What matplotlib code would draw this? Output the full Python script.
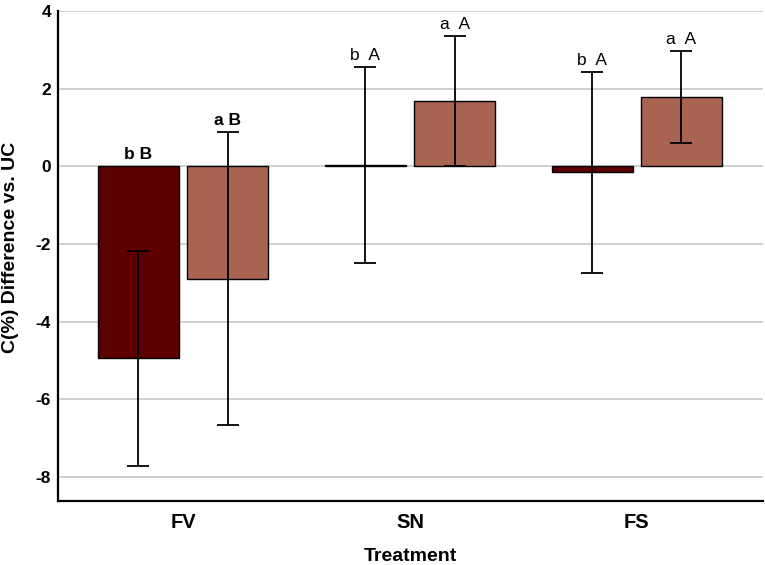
import numpy as np
import matplotlib.pyplot as plt

plt.rcParams['font.family'] = ['Liberation Sans', 'DejaVu Sans']

treatments = ["FV", "SN", "FS"]
dark_vals = [-4.95, 0.03, -0.155]
dark_err = [2.77, 2.52, 2.58]
light_vals = [-2.89, 1.69, 1.78]
light_err = [3.78, 1.67, 1.19]
dark_labels = ["b B", "b  A", "b  A"]
light_labels = ["a B", "a  A", "a  A"]
label_bold = [True, False, False]

dark_color = "#5c0000"
light_color = "#a86450"

fig = plt.figure(figsize=(7.65, 5.65), dpi=100)
ax = fig.add_axes([0.0758, 0.1133, 0.9212, 0.8672])

x = np.arange(len(treatments))
w = 0.357
off = 0.197

ax.bar(x - off, dark_vals, w, color=dark_color, edgecolor="black", linewidth=1, zorder=2)
ax.bar(x + off, light_vals, w, color=light_color, edgecolor="black", linewidth=1, zorder=2)
ax.errorbar(x - off, dark_vals, yerr=dark_err, fmt="none", ecolor="black",
            elinewidth=1.3, capsize=8, capthick=1.3, zorder=3)
ax.errorbar(x + off, light_vals, yerr=light_err, fmt="none", ecolor="black",
            elinewidth=1.3, capsize=8, capthick=1.3, zorder=3)

# significance letters above the bar or error cap, whichever is higher
for i in range(len(treatments)):
    wt = "bold" if label_bold[i] else "normal"
    top_d = max(0, dark_vals[i] + dark_err[i])
    top_l = max(0, light_vals[i] + light_err[i])
    ax.annotate(dark_labels[i], (x[i] - off, top_d), xytext=(0, 3),
                textcoords="offset points", ha="center", va="bottom",
                fontsize=12.5, fontweight=wt)
    ax.annotate(light_labels[i], (x[i] + off, top_l), xytext=(0, 3),
                textcoords="offset points", ha="center", va="bottom",
                fontsize=12.5, fontweight=wt)

ax.set_xlim(-0.551, 2.555)
ax.set_ylim(-8.62, 4)
ax.set_yticks([4, 2, 0, -2, -4, -6, -8])
ax.set_yticklabels(["4", "2", "0", "-2", "-4", "-6", "-8"], fontsize=12.5, fontweight="bold")
ax.set_xticks(x)
ax.set_xticklabels(treatments, fontsize=14.5, fontweight="bold")
ax.tick_params(axis="both", length=0)
ax.tick_params(axis="x", pad=9)
ax.tick_params(axis="y", pad=5)

ax.yaxis.grid(True, color="#c8c8c8", linewidth=1.2, zorder=0)
ax.set_axisbelow(True)

for s in ["top", "right"]:
    ax.spines[s].set_visible(False)
ax.spines["left"].set_linewidth(1.6)
ax.spines["bottom"].set_linewidth(1.6)

ax.set_xlabel("Treatment", fontsize=14, fontweight="bold", labelpad=11)
ax.set_ylabel("C(%) Difference vs. UC", fontsize=14, fontweight="bold")
ax.yaxis.set_label_coords(-0.055, 0.518)

fig.savefig("out.png", dpi=100)
